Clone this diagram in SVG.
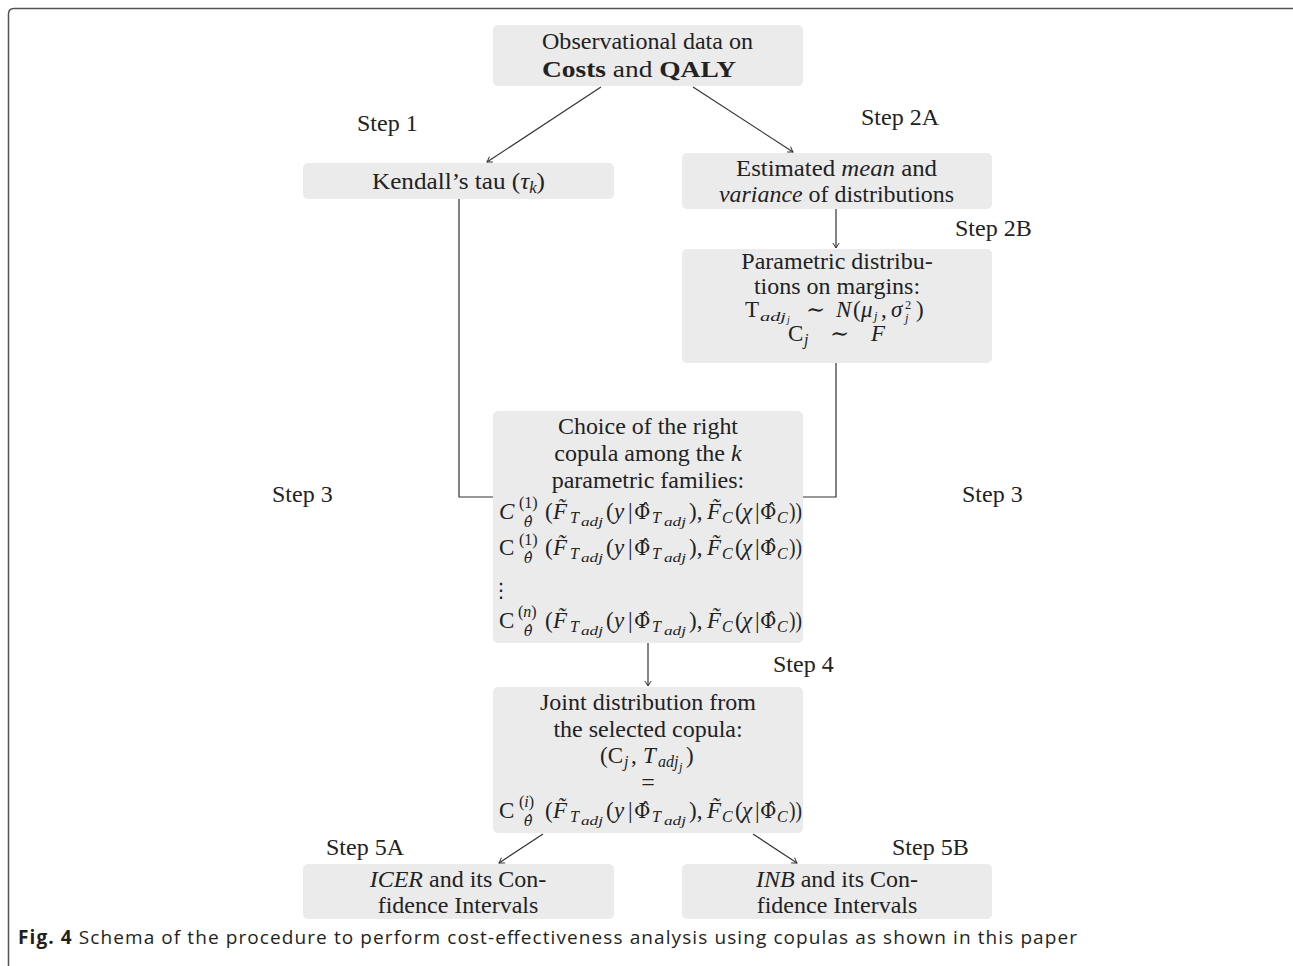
<svg xmlns="http://www.w3.org/2000/svg" width="1293" height="966" viewBox="0 0 1293 966">
<style>
.t{font-family:"Liberation Serif","DejaVu Serif",serif;font-size:24px;fill:#222}
.m{font-family:"Liberation Serif","DejaVu Serif",serif;font-size:23px;fill:#222}
.i{font-style:italic}
.b{font-weight:bold}
.s{font-size:16px}
.ss{font-size:12.5px}
.dv{font-family:"DejaVu Serif",serif;font-size:20px}
.dvs{font-family:"DejaVu Serif",serif;font-size:14px;font-style:italic}
.box{fill:#ebebeb}
.ln{stroke:#333;stroke-width:1.2;fill:none}
.cap{font-family:"Open Sans","Liberation Sans",sans-serif;font-size:19px;fill:#231f20}
</style>
<defs>
<marker id="ar" markerUnits="userSpaceOnUse" markerWidth="12" markerHeight="12" viewBox="-6 -6 12 12" refX="0" refY="0" orient="auto">
<path d="M-5,-3.2 Q-1.5,-0.8 0,0 Q-1.5,0.8 -5,3.2" fill="none" stroke="#333" stroke-width="1"/>
</marker>
</defs>
<rect width="1293" height="966" fill="#fff"/>
<path d="M8.5,966 V14 Q8.5,8.5 14,8.5 H1293" fill="none" stroke="#555" stroke-width="1.5"/>

<g id="connectors">
<line class="ln" x1="601" y1="87" x2="487" y2="162" marker-end="url(#ar)"/>
<line class="ln" x1="693" y1="87" x2="793" y2="152" marker-end="url(#ar)"/>
<line class="ln" x1="836" y1="209" x2="836" y2="248" marker-end="url(#ar)"/>
<polyline class="ln" points="459,199 459,497 493,497"/>
<polyline class="ln" points="836,363 836,497 803,497"/>
<line class="ln" x1="648" y1="643" x2="648" y2="686" marker-end="url(#ar)"/>
<line class="ln" x1="543" y1="834" x2="499" y2="863" marker-end="url(#ar)"/>
<line class="ln" x1="753" y1="834" x2="797" y2="863" marker-end="url(#ar)"/>
</g>

<g id="labels">
<text class="t" x="357" y="131">Step 1</text>
<text class="t" x="861" y="125">Step 2A</text>
<text class="t" x="955" y="236">Step 2B</text>
<text class="t" x="272" y="502">Step 3</text>
<text class="t" x="962" y="502">Step 3</text>
<text class="t" x="773" y="672">Step 4</text>
<text class="t" x="326" y="855">Step 5A</text>
<text class="t" x="892" y="855">Step 5B</text>
</g>

<g id="n-observational">
<rect class="box" x="493" y="25" width="310" height="61" rx="5"/>
<text class="t" x="542" y="49" textLength="211" lengthAdjust="spacingAndGlyphs">Observational data on</text>
<text class="t" x="542" y="77" textLength="194" lengthAdjust="spacingAndGlyphs"><tspan class="b">Costs</tspan> and <tspan class="b">QALY</tspan></text>
</g>

<g id="n-kendall">
<rect class="box" x="303" y="163" width="311" height="36" rx="5"/>
<text class="t" x="372" y="189" textLength="173" lengthAdjust="spacingAndGlyphs">Kendall’s tau (<tspan class="i">τ</tspan><tspan class="s i" dy="4">k</tspan><tspan dy="-4">)</tspan></text>
</g>

<g id="n-estimated">
<rect class="box" x="682" y="153" width="310" height="56" rx="5"/>
<text class="t" x="736" y="176" textLength="201" lengthAdjust="spacingAndGlyphs">Estimated <tspan class="i">mean</tspan> and</text>
<text class="t" x="719" y="202" textLength="235" lengthAdjust="spacingAndGlyphs"><tspan class="i">variance</tspan> of distributions</text>
</g>

<g id="n-parametric">
<rect class="box" x="682" y="249" width="310" height="114" rx="5"/>
<text class="t" x="837" y="269" text-anchor="middle">Parametric distribu-</text>
<text class="t" x="837" y="294" text-anchor="middle">tions on margins:</text>
<text class="m"><tspan x="745" y="317">T</tspan><tspan class="ss i" x="760" y="321" textLength="26" lengthAdjust="spacingAndGlyphs">adj</tspan><tspan class="ss i" x="787" y="323" style="font-size:10px">j</tspan><tspan x="806" y="317">∼</tspan><tspan class="i" x="836" y="317">N</tspan><tspan x="853" y="317">(</tspan><tspan class="i" x="861" y="317">μ</tspan><tspan class="ss i" x="874" y="320">j</tspan><tspan x="881" y="317">,</tspan><tspan class="i" x="891" y="317">σ</tspan><tspan class="ss" x="905" y="309">2</tspan><tspan class="ss i" x="905" y="322">j</tspan><tspan x="916" y="317">)</tspan></text>
<text class="m"><tspan x="788" y="341">C</tspan><tspan class="s i" x="804" y="345">j</tspan><tspan x="830" y="341">∼</tspan><tspan class="i" x="871" y="341">F</tspan></text>
</g>

<g id="n-choice">
<rect class="box" x="493" y="411" width="310" height="232" rx="5"/>
<text class="t" x="558" y="434" textLength="180" lengthAdjust="spacingAndGlyphs">Choice of the right</text>
<text class="t" x="648" y="461" text-anchor="middle">copula among the <tspan class="i">k</tspan></text>
<text class="t" x="648" y="488" text-anchor="middle">parametric families:</text>
<g transform="translate(0,519)">
<text class="m"><tspan class="i" x="499" y="0">C</tspan><tspan class="s" x="519" y="-11">(1)</tspan><tspan class="dvs" x="524" y="8">θ̂</tspan><tspan x="545" y="0">(</tspan><tspan class="i" x="553" y="0">F̃</tspan><tspan class="s i" x="570" y="4">T</tspan><tspan class="ss i" x="581" y="7" textLength="22" lengthAdjust="spacingAndGlyphs">adj</tspan><tspan x="606" y="0">(</tspan><tspan class="i" x="614" y="0">y</tspan><tspan x="628" y="0">|</tspan><tspan class="dv" x="634" y="0">Φ̂</tspan><tspan class="s i" x="652" y="4">T</tspan><tspan class="ss i" x="664" y="7" textLength="22" lengthAdjust="spacingAndGlyphs">adj</tspan><tspan x="689" y="0">),</tspan><tspan class="i" x="707" y="0">F̃</tspan><tspan class="s i" x="722" y="4">C</tspan><tspan x="735" y="0">(</tspan><tspan class="i" x="742" y="0">χ</tspan><tspan x="755" y="0">|</tspan><tspan class="dv" x="760" y="0">Φ̂</tspan><tspan class="s i" x="777" y="4">C</tspan><tspan x="789" y="0" textLength="13" lengthAdjust="spacingAndGlyphs">))</tspan></text>
</g>
<g transform="translate(0,555)">
<text class="m"><tspan x="499" y="0">C</tspan><tspan class="s" x="519" y="-10">(1)</tspan><tspan class="dvs" x="524" y="8">θ̂</tspan><tspan x="545" y="0">(</tspan><tspan class="i" x="553" y="0">F̃</tspan><tspan class="s i" x="570" y="4">T</tspan><tspan class="ss i" x="581" y="7" textLength="22" lengthAdjust="spacingAndGlyphs">adj</tspan><tspan x="606" y="0">(</tspan><tspan class="i" x="614" y="0">y</tspan><tspan x="628" y="0">|</tspan><tspan class="dv" x="634" y="0">Φ̂</tspan><tspan class="s i" x="652" y="4">T</tspan><tspan class="ss i" x="664" y="7" textLength="22" lengthAdjust="spacingAndGlyphs">adj</tspan><tspan x="689" y="0">),</tspan><tspan class="i" x="707" y="0">F̃</tspan><tspan class="s i" x="722" y="4">C</tspan><tspan x="735" y="0">(</tspan><tspan class="i" x="742" y="0">χ</tspan><tspan x="755" y="0">|</tspan><tspan class="dv" x="760" y="0">Φ̂</tspan><tspan class="s i" x="777" y="4">C</tspan><tspan x="789" y="0" textLength="13" lengthAdjust="spacingAndGlyphs">))</tspan></text>
</g>
<text x="501" y="597" text-anchor="middle" style="font-family:'DejaVu Sans',sans-serif;font-size:20px;fill:#222">⋮</text>
<g transform="translate(0,628)">
<text class="m"><tspan x="499" y="0">C</tspan><tspan class="s" x="518" y="-11">(<tspan class="i">n</tspan>)</tspan><tspan class="dvs" x="524" y="8">θ̂</tspan><tspan x="545" y="0">(</tspan><tspan class="i" x="553" y="0">F̃</tspan><tspan class="s i" x="570" y="4">T</tspan><tspan class="ss i" x="581" y="7" textLength="22" lengthAdjust="spacingAndGlyphs">adj</tspan><tspan x="606" y="0">(</tspan><tspan class="i" x="614" y="0">y</tspan><tspan x="628" y="0">|</tspan><tspan class="dv" x="634" y="0">Φ̂</tspan><tspan class="s i" x="652" y="4">T</tspan><tspan class="ss i" x="664" y="7" textLength="22" lengthAdjust="spacingAndGlyphs">adj</tspan><tspan x="689" y="0">),</tspan><tspan class="i" x="707" y="0">F̃</tspan><tspan class="s i" x="722" y="4">C</tspan><tspan x="735" y="0">(</tspan><tspan class="i" x="742" y="0">χ</tspan><tspan x="755" y="0">|</tspan><tspan class="dv" x="760" y="0">Φ̂</tspan><tspan class="s i" x="777" y="4">C</tspan><tspan x="789" y="0" textLength="13" lengthAdjust="spacingAndGlyphs">))</tspan></text>
</g>
</g>

<g id="n-joint">
<rect class="box" x="493" y="687" width="310" height="146" rx="5"/>
<text class="t" x="648" y="710" text-anchor="middle">Joint distribution from</text>
<text class="t" x="648" y="737" text-anchor="middle">the selected copula:</text>
<text class="m"><tspan x="600" y="763">(C</tspan><tspan class="s i" x="624" y="767">j</tspan><tspan x="631" y="763">,</tspan><tspan class="i" x="643" y="763">T</tspan><tspan class="s i" x="658" y="767">adj</tspan><tspan class="ss i" x="679" y="771">j</tspan><tspan x="686" y="763">)</tspan></text>
<text class="t" x="648" y="790" text-anchor="middle" fill="#555">=</text>
<g transform="translate(0,818)">
<text class="m"><tspan x="499" y="0">C</tspan><tspan class="s" x="519" y="-11">(<tspan class="i">i</tspan>)</tspan><tspan class="dvs" x="524" y="8">θ̂</tspan><tspan x="545" y="0">(</tspan><tspan class="i" x="553" y="0">F̃</tspan><tspan class="s i" x="570" y="4">T</tspan><tspan class="ss i" x="581" y="7" textLength="22" lengthAdjust="spacingAndGlyphs">adj</tspan><tspan x="606" y="0">(</tspan><tspan class="i" x="614" y="0">y</tspan><tspan x="628" y="0">|</tspan><tspan class="dv" x="634" y="0">Φ̂</tspan><tspan class="s i" x="652" y="4">T</tspan><tspan class="ss i" x="664" y="7" textLength="22" lengthAdjust="spacingAndGlyphs">adj</tspan><tspan x="689" y="0">),</tspan><tspan class="i" x="707" y="0">F̃</tspan><tspan class="s i" x="722" y="4">C</tspan><tspan x="735" y="0">(</tspan><tspan class="i" x="742" y="0">χ</tspan><tspan x="755" y="0">|</tspan><tspan class="dv" x="760" y="0">Φ̂</tspan><tspan class="s i" x="777" y="4">C</tspan><tspan x="789" y="0" textLength="13" lengthAdjust="spacingAndGlyphs">))</tspan></text>
</g>
</g>

<g id="n-icer">
<rect class="box" x="303" y="864" width="311" height="55" rx="5"/>
<text class="t" x="458" y="887" text-anchor="middle"><tspan class="i">ICER</tspan> and its Con-</text>
<text class="t" x="458" y="913" text-anchor="middle">fidence Intervals</text>
</g>

<g id="n-inb">
<rect class="box" x="682" y="864" width="310" height="55" rx="5"/>
<text class="t" x="837" y="887" text-anchor="middle"><tspan class="i">INB</tspan> and its Con-</text>
<text class="t" x="837" y="913" text-anchor="middle">fidence Intervals</text>
</g>

<text class="cap" x="18" y="944" textLength="1059"><tspan font-weight="bold">Fig. 4</tspan> Schema of the procedure to perform cost-effectiveness analysis using copulas as shown in this paper</text>
</svg>
